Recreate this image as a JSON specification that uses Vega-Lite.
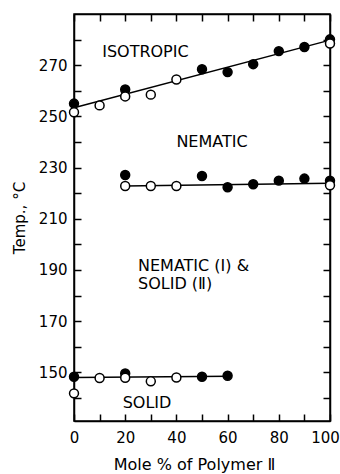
{
  "$schema": "https://vega.github.io/schema/vega-lite/v6.json",
  "width": 256,
  "height": 407,
  "autosize": "none",
  "padding": {"left": 74, "top": 14, "right": 10, "bottom": 53},
  "background": "white",
  "config": {
    "view": {"stroke": "black", "strokeWidth": 1.5},
    "font": "DejaVu Sans",
    "axis": {
      "grid": false,
      "domainColor": "black",
      "domainWidth": 1.5,
      "tickColor": "black",
      "tickWidth": 1.5,
      "tickSize": -7,
      "labelFlush": false,
      "labelOverlap": false,
      "labelColor": "black",
      "labelFont": "DejaVu Sans",
      "labelFontSize": 15,
      "titleFont": "DejaVu Sans",
      "titleFontSize": 15,
      "titleFontWeight": "normal",
      "titleColor": "black"
    }
  },
  "datasets": {
    "points": [
      {"mole": 0, "temp": 255.0, "symbol": "filled"},
      {"mole": 0, "temp": 251.6, "symbol": "open"},
      {"mole": 10, "temp": 254.3, "symbol": "open"},
      {"mole": 20, "temp": 260.5, "symbol": "filled"},
      {"mole": 20, "temp": 257.8, "symbol": "open"},
      {"mole": 30, "temp": 258.5, "symbol": "open"},
      {"mole": 40, "temp": 264.4, "symbol": "open"},
      {"mole": 50, "temp": 268.4, "symbol": "filled"},
      {"mole": 60, "temp": 267.3, "symbol": "filled"},
      {"mole": 70, "temp": 270.4, "symbol": "filled"},
      {"mole": 80, "temp": 275.5, "symbol": "filled"},
      {"mole": 90, "temp": 277.1, "symbol": "filled"},
      {"mole": 100, "temp": 280.1, "symbol": "filled"},
      {"mole": 100, "temp": 278.5, "symbol": "open"},
      {"mole": 20, "temp": 227.1, "symbol": "filled"},
      {"mole": 20, "temp": 222.8, "symbol": "open"},
      {"mole": 30, "temp": 222.8, "symbol": "open"},
      {"mole": 40, "temp": 222.8, "symbol": "open"},
      {"mole": 50, "temp": 226.7, "symbol": "filled"},
      {"mole": 60, "temp": 222.3, "symbol": "filled"},
      {"mole": 70, "temp": 223.5, "symbol": "filled"},
      {"mole": 80, "temp": 224.9, "symbol": "filled"},
      {"mole": 90, "temp": 225.7, "symbol": "filled"},
      {"mole": 100, "temp": 224.9, "symbol": "filled"},
      {"mole": 100, "temp": 223.1, "symbol": "open"},
      {"mole": 0, "temp": 148.3, "symbol": "filled"},
      {"mole": 0, "temp": 141.8, "symbol": "open"},
      {"mole": 10, "temp": 147.8, "symbol": "open"},
      {"mole": 20, "temp": 149.6, "symbol": "filled"},
      {"mole": 20, "temp": 147.9, "symbol": "open"},
      {"mole": 30, "temp": 146.5, "symbol": "open"},
      {"mole": 40, "temp": 148.0, "symbol": "open"},
      {"mole": 50, "temp": 148.3, "symbol": "filled"},
      {"mole": 60, "temp": 148.7, "symbol": "filled"}
    ],
    "lines": [
      {"boundary": "isotropic", "mole": 0, "temp": 253.4},
      {"boundary": "isotropic", "mole": 100, "temp": 279.8},
      {"boundary": "nematic", "mole": 20, "temp": 222.8},
      {"boundary": "nematic", "mole": 100, "temp": 223.9},
      {"boundary": "solid", "mole": 0, "temp": 148.0},
      {"boundary": "solid", "mole": 61, "temp": 148.5}
    ],
    "labels": [
      {"text": "ISOTROPIC", "mole": 11, "temp": 275.1},
      {"text": "NEMATIC", "mole": 40, "temp": 239.8},
      {"text": "NEMATIC (Ⅰ) &", "mole": 25, "temp": 191.6},
      {"text": "SOLID (Ⅱ)", "mole": 25, "temp": 184.5},
      {"text": "SOLID", "mole": 19, "temp": 138.0}
    ]
  },
  "layer": [
    {
      "data": {"name": "lines"},
      "mark": {"type": "line", "color": "black", "strokeWidth": 1.5},
      "encoding": {
        "x": {"field": "mole", "type": "quantitative", "scale": {"domain": [0, 100], "nice": false},
          "axis": {"orient": "top", "values": [0,10,20,30,40,50,60,70,80,90,100], "labels": false, "title": null}},
        "y": {"field": "temp", "type": "quantitative", "scale": {"domain": [131, 290], "nice": false, "zero": false},
          "axis": {"orient": "right", "values": [140,150,160,170,180,190,200,210,220,230,240,250,260,270,280], "labels": false, "title": null}},
        "detail": {"field": "boundary"}
      }
    },
    {
      "data": {"name": "points"},
      "mark": {"type": "point", "shape": "circle", "size": 80, "strokeWidth": 1.5, "stroke": "black", "filled": true, "opacity": 1},
      "encoding": {
        "x": {"field": "mole", "type": "quantitative",
          "axis": {"orient": "bottom", "values": [0,10,20,30,40,50,60,70,80,90,100],
            "labelExpr": "datum.value % 20 == 0 ? datum.label : ''", "labelPadding": 16,
            "labelOffset": {"condition": {"test": "datum.value == 100", "value": -5}, "value": 0},
            "title": "Mole % of Polymer Ⅱ", "titleFontSize": 16, "titlePadding": 11, "titleX": 120}},
        "y": {"field": "temp", "type": "quantitative",
          "axis": {"orient": "left", "values": [140,150,160,170,180,190,200,210,220,230,240,250,260,270,280],
            "labelExpr": "datum.value % 20 == 10 ? datum.label : ''", "labelPadding": 14, "title": "Temp., °C", "titlePadding": 11}},
        "fill": {"field": "symbol", "type": "nominal", "scale": {"domain": ["filled", "open"], "range": ["black", "white"]}, "legend": null},
        "order": {"field": "symbol", "sort": "ascending"}
      }
    },
    {
      "data": {"name": "labels"},
      "mark": {"type": "text", "align": "left", "baseline": "middle", "fontSize": 16, "color": "black", "font": "DejaVu Sans"},
      "encoding": {
        "x": {"field": "mole", "type": "quantitative", "axis": null},
        "y": {"field": "temp", "type": "quantitative", "axis": null},
        "text": {"field": "text"}
      }
    }
  ],
  "resolve": {"axis": {"x": "independent", "y": "independent"}}
}
